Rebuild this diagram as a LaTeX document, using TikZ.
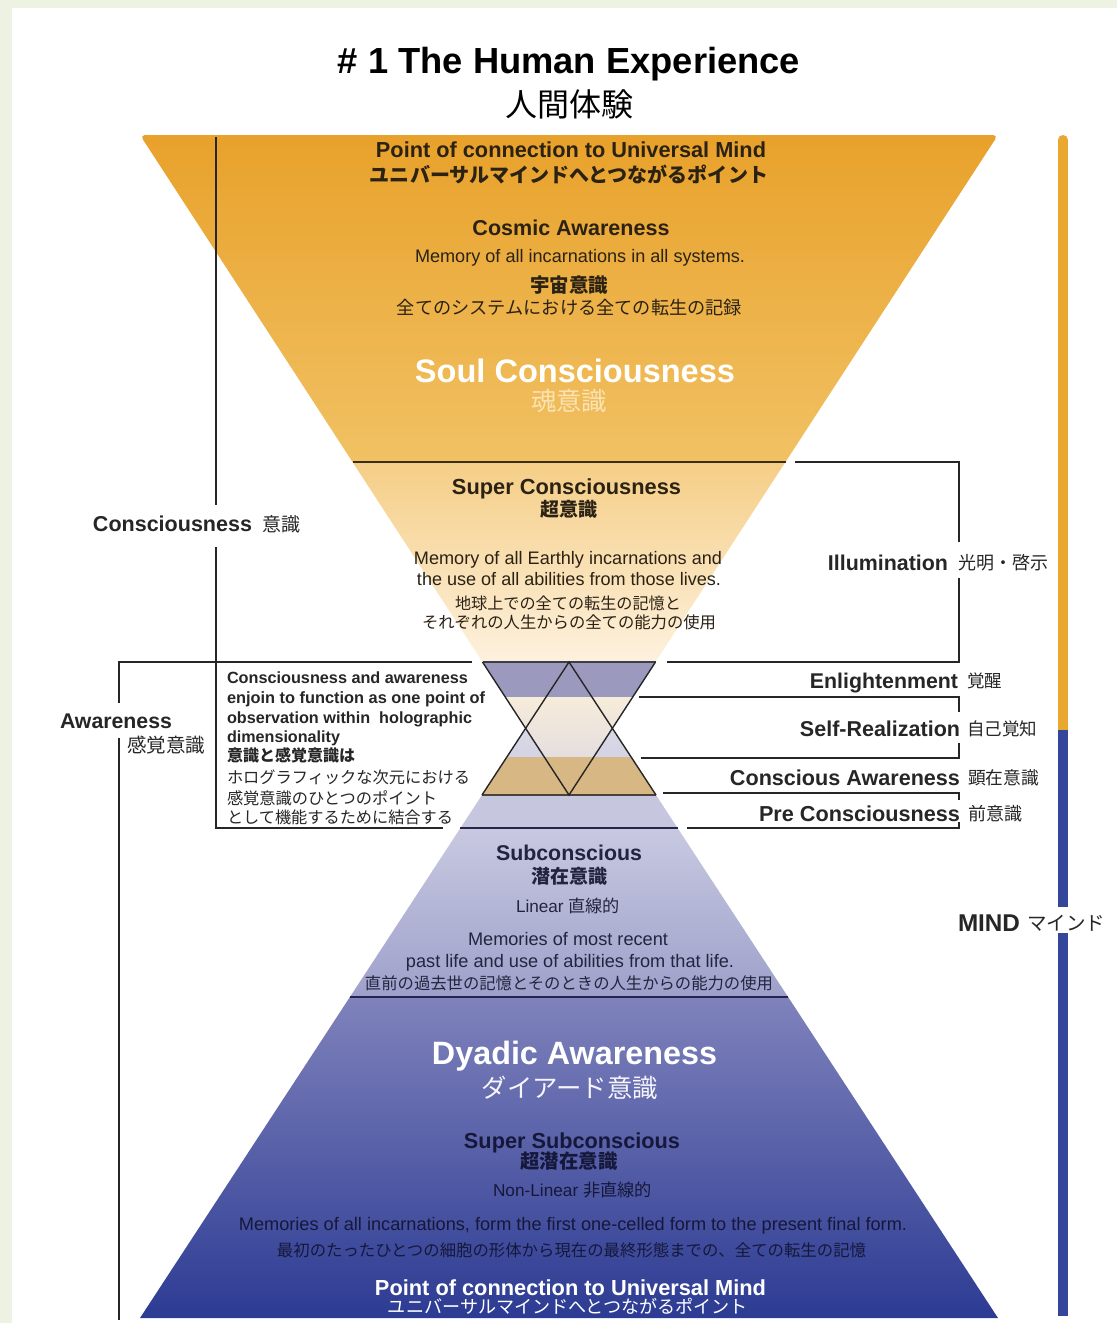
\documentclass[tikz,border=0pt]{standalone}
\usepackage{fontspec}
\usepackage{graphicx}
\setmainfont{Liberation Sans}
\newfontfamily\jp{Noto Sans CJK JP}
\newcommand\T[2]{\resizebox{#1pt}{!}{#2}}
\definecolor{bggreen}{HTML}{EEF2E3}
\definecolor{ink}{HTML}{262626}
\definecolor{inkO}{HTML}{2B2214}
\definecolor{inkB}{HTML}{23253F}
\definecolor{inkD}{HTML}{15183A}
\definecolor{orA}{HTML}{E8A12A}
\definecolor{orB}{HTML}{F1C163}
\definecolor{peA}{HTML}{F5CE86}
\definecolor{peB}{HTML}{FDF1DE}
\definecolor{hexP}{HTML}{9C99BF}
\definecolor{crA}{HTML}{F7ECDA}
\definecolor{crB}{HTML}{E4DEDF}
\definecolor{lvA}{HTML}{E2DEE6}
\definecolor{lvB}{HTML}{D3D3E5}
\definecolor{hexT}{HTML}{D7B784}
\definecolor{subT}{HTML}{C6C7DF}
\definecolor{sbA}{HTML}{C8C9E0}
\definecolor{sbB}{HTML}{9EA0CB}
\definecolor{dyA}{HTML}{7F82BB}
\definecolor{dyB}{HTML}{2C3B93}
\definecolor{soulj}{HTML}{FBE3B4}
\definecolor{barO}{HTML}{E9A830}
\definecolor{barB}{HTML}{34459A}
\definecolor{sepO}{HTML}{3B2E1A}
\definecolor{sepB}{HTML}{23264A}
\begin{document}
\begin{tikzpicture}[x=1pt,y=-1pt,
  lbl/.style={inner sep=0pt, outer sep=0pt, anchor=base, text=inkO},
  lblB/.style={lbl, text=inkB},
  lblD/.style={lbl, text=inkD},
  lblW/.style={lbl, text=ink, anchor=base west},
  lblE/.style={lbl, text=ink, anchor=base east},
  brk/.style={draw=ink, line width=1.8pt},
  hexline/.style={draw=ink, line width=1.4pt}]

\useasboundingbox (0,0) rectangle (1117,1323);
\fill[bggreen] (0,0) rectangle (1117,1323);
\fill[white] (12,8) rectangle (1117,1323);

\coordinate (UL) at (140,135);
\coordinate (UR) at (998,135);
\coordinate (UA) at (569,795);
\coordinate (LA) at (569,662);
\coordinate (LL) at (140,1318);
\coordinate (LR) at (998,1318);

% lower triangle
\begin{scope}
\clip (LA) -- (LR) -- (LL) -- cycle;
\fill[hexP] (130,662) rectangle (1000,697);
\shade[top color=lvA, bottom color=lvB] (130,697) rectangle (1000,757);
\fill[hexT] (130,757) rectangle (1000,795);
\fill[subT] (130,795) rectangle (1000,828);
\shade[top color=sbA, bottom color=sbB] (130,828) rectangle (1000,997);
\shade[top color=dyA, bottom color=dyB] (130,997) rectangle (1000,1318);
\end{scope}

% upper triangle
\begin{scope}
\clip[rounded corners=5pt] (UL) -- (UR) -- (UA) -- cycle;
\shade[top color=orA, bottom color=orB] (130,130) rectangle (1000,462);
\shade[top color=peA, bottom color=peB] (130,462) rectangle (1000,662);
\fill[hexP] (130,662) rectangle (1000,697);
\shade[top color=crA, bottom color=crB] (130,697) rectangle (1000,757);
\fill[hexT] (130,757) rectangle (1000,795);
\end{scope}

% separators
\draw[sepO, line width=2.4pt] (352.5,462) -- (785.5,462);
\draw[draw=ink!80!hexP, line width=1.6pt] (482.5,662) -- (655.5,662);
\draw[draw=ink!80!hexT, line width=1.6pt] (482,795) -- (656,795);
\draw[sepB, line width=2.4pt] (460,828) -- (678,828);
\draw[sepB, line width=2.4pt] (350,997) -- (788,997);

% hexagram
\draw[hexline] (482.5,662) -- (UA) -- (655.5,662);
\draw[hexline] (482,795) -- (LA) -- (656,795);

% title
\node[lbl, text=black] (title) at (569,73) {\T{462}{\bfseries \# 1 The Human Experience}};
\node[lbl, text=black] (titlejp) at (569,116) {\T{128}{\jp 人間体験}};

% upper texts
\node[lbl] (pc1) at (571,157) {\T{390}{\bfseries Point of connection to Universal Mind}};
\node[lbl] (pc1j) at (569,182) {\T{398}{\jp\bfseries ユニバーサルマインドへとつながるポイント}};
\node[lbl] (cosmic) at (571,235) {\T{197}{\bfseries Cosmic Awareness}};
\node[lbl] (cosmicm) at (580,262) {\T{330}{Memory of all incarnations in all systems.}};
\node[lbl] (cosmicj) at (569,292) {\T{78}{\jp\bfseries 宇宙意識}};
\node[lbl] (cosmicmj) at (569.5,314) {\T{345}{\jp 全てのシステムにおける全ての転生の記録}};
\node[lbl, text=white] (soul) at (575,382) {\T{320}{\bfseries Soul Consciousness}};
\node[lbl, text=soulj] (soulja) at (569,410) {\T{76}{\jp 魂意識}};
\node[lbl] (super) at (566.5,494) {\T{229}{\bfseries Super Consciousness}};
\node[lbl] (superj) at (569,516) {\T{57}{\jp\bfseries 超意識}};
\node[lbl] (superm1) at (568,564) {\T{308}{Memory of all Earthly incarnations and}};
\node[lbl] (superm2) at (569,585) {\T{304}{the use of all abilities from those lives.}};
\node[lbl] (superj1) at (568,609) {\T{226}{\jp 地球上での全ての転生の記憶と}};
\node[lbl] (superj2) at (569,628) {\T{294}{\jp それぞれの人生からの全ての能力の使用}};

% lower texts
\node[lblB] (sub) at (569,860) {\T{146}{\bfseries Subconscious}};
\node[lblB] (subj) at (569,883) {\T{76}{\jp\bfseries 潜在意識}};
\node[lblB] (lin) at (568,912.5) {\T{104}{Linear {\jp 直線的}}};
\node[lblB] (subm1) at (568,945.5) {\T{200}{Memories of most recent}};
\node[lblB] (subm2) at (570,967.5) {\T{328}{past life and use of abilities from that life.}};
\node[lblB] (subj2) at (569,989) {\T{408}{\jp 直前の過去世の記憶とそのときの人生からの能力の使用}};
\node[lbl, text=white] (dy) at (574.5,1064.5) {\T{285}{\bfseries Dyadic Awareness}};
\node[lbl, text=white!92!dyA] (dyj) at (570,1097.5) {\T{176}{\jp ダイアード意識}};
\node[lblD] (ss) at (572,1148) {\T{216}{\bfseries Super Subconscious}};
\node[lblD] (ssj) at (569,1168) {\T{97}{\jp\bfseries 超潜在意識}};
\node[lblD] (nl) at (572.5,1196.5) {\T{159}{Non-Linear {\jp 非直線的}}};
\node[lblD] (ssm) at (573,1230.5) {\T{668}{Memories of all incarnations, form the first one-celled form to the present final form.}};
\node[lblD] (ssmj) at (571.5,1256) {\T{589}{\jp 最初のたったひとつの細胞の形体から現在の最終形態までの、全ての転生の記憶}};
\node[lbl, text=white] (pc2) at (570.5,1295) {\T{391}{\bfseries Point of connection to Universal Mind}};
\node[lbl, text=white] (pc2j) at (568,1313.5) {\T{360}{\jp ユニバーサルマインドへとつながるポイント}};

% left labels
\node[lblE] (consc) at (252,531.8) {\T{159}{\bfseries Consciousness}};
\node[lblW] (conscj) at (262,531) {\T{38}{\jp 意識}};
\node[lblW] (aw) at (60,728) {\T{112}{\bfseries Awareness}};
\node[lblW] (awj) at (127,752) {\T{78}{\jp 感覚意識}};

\node[lblW] (b1) at (227,683) {\T{241}{\bfseries Consciousness and awareness}};
\node[lblW] (b2) at (227,703) {\T{258}{\bfseries enjoin to function as one point of}};
\node[lblW] (b3) at (227,723) {\T{245}{\bfseries observation within\ \ holographic}};
\node[lblW] (b4) at (227,742) {\T{113}{\bfseries dimensionality}};
\node[lblW] (b5) at (227,761) {\T{128}{\jp\bfseries 意識と感覚意識は}};
\node[lblW] (b6) at (227,783) {\T{243}{\jp ホログラフィックな次元における}};
\node[lblW] (b7) at (227,804) {\T{210}{\jp 感覚意識のひとつのポイント}};
\node[lblW] (b8) at (227,823) {\T{226}{\jp として機能するために結合する}};

% right labels
\node[lblE] (illum) at (948,570) {\T{120}{\bfseries Illumination}};
\node[lblW] (illumj) at (958,569) {\T{90}{\jp 光明・啓示}};
\node[lblE] (enl) at (958,688) {\T{148}{\bfseries Enlightenment}};
\node[lblW] (enlj) at (967,687) {\T{35}{\jp 覚醒}};
\node[lblE] (self) at (960,736) {\T{160}{\bfseries Self-Realization}};
\node[lblW] (selfj) at (967,735) {\T{70}{\jp 自己覚知}};
\node[lblE] (ca) at (960,785) {\T{230}{\bfseries Conscious Awareness}};
\node[lblW] (caj) at (968,784) {\T{71}{\jp 顕在意識}};
\node[lblE] (pre) at (960,821) {\T{201}{\bfseries Pre Consciousness}};
\node[lblW] (prej) at (968,820) {\T{54}{\jp 前意識}};
\node[lblE] (mind) at (1020,931) {\T{62}{\bfseries MIND}};
\node[lblW] (mindj) at (1027,930) {\T{78}{\jp マインド}};

% left brackets
\draw[brk] (216,137) -- (216,505);
\draw[brk] (216,547) -- (216,828) -- (443,828);
\draw[brk] (472,662) -- (119,662) -- (119,703);
\draw[brk] (119,738) -- (119,1320);

% right brackets
\draw[brk] (795,462) -- (959,462) -- (959,542);
\draw[brk] (959,578) -- (959,662) -- (667,662);
\draw[brk] (639,697) -- (959,697) -- (959,712);
\draw[brk] (959,743) -- (959,758) -- (641,758);
\draw[brk] (663,793) -- (959,793) -- (959,800);
\draw[brk] (959,822) -- (959,828) -- (687,828);

% MIND bar
\draw[barO, line width=10pt, line cap=round] (1063,140) -- (1063,730);
\draw[barB, line width=10pt] (1063,730) -- (1063,907);
\draw[barB, line width=10pt] (1063,933) -- (1063,1316);
\end{tikzpicture}
\end{document}
